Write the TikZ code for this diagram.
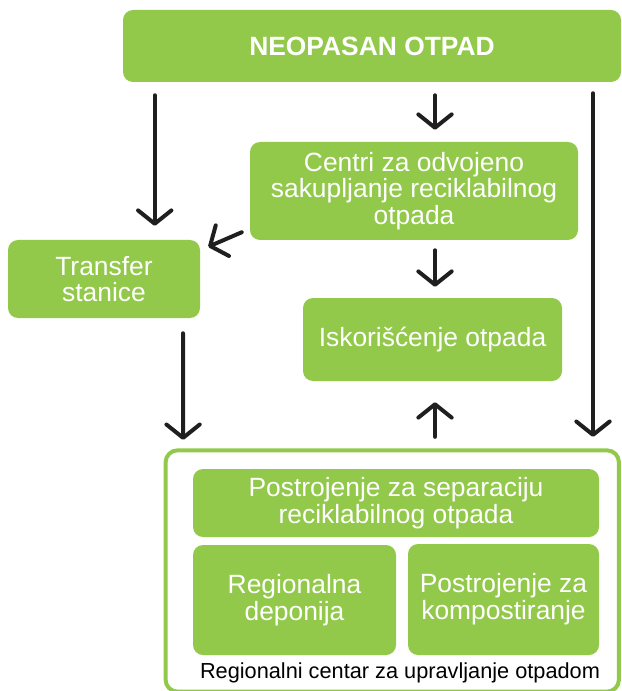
\documentclass[tikz,border=0pt]{standalone}
\usepackage{fontspec}
\setmainfont{Liberation Sans}
\usetikzlibrary{arrows.meta,calc}
\definecolor{leafgreen}{RGB}{146,201,74}

\begin{document}
\begin{tikzpicture}
[
x=0.75pt, y=-0.75pt,
GreenBox/.style={rectangle, rounded corners=7.5pt, fill=leafgreen, draw=none, text=white, align=center, inner sep=0pt, font=\fontsize{19.8}{20}\selectfont},
Center/.style={rectangle, rounded corners=9pt, draw=leafgreen, line width=3pt, fill=white, outer sep=0pt, inner sep=0pt},
FlowArrow/.style={-{Straight Barb[length=10pt, width=25pt, line cap=round, line join=round]}, line width=3pt, line cap=round, draw=black!88},
]

\useasboundingbox (0,0) rectangle (621,691);

\node[GreenBox, minimum width=373.5pt, minimum height=54pt, font=\fontsize{19.8}{20}\selectfont\bfseries] (top) at (372,46) {NEOPASAN OTPAD};

\node[GreenBox, minimum width=246pt, minimum height=73.5pt] (centri) at (414,191) {Centri za odvojeno\\ sakupljanje reciklabilnog\\ otpada};
\node[GreenBox, minimum width=144pt, minimum height=58.5pt] (transfer) at (104,279) {Transfer\\ stanice};
\node[GreenBox, minimum width=194.25pt, minimum height=62.25pt] (isk) at (432.5,339.5) {Iskorišćenje otpada};

\node[Center, minimum width=340pt, minimum height=181pt] (centar) at (392.25,571) {};
\node[GreenBox, minimum width=304.5pt, minimum height=51pt] (sep) at (396,503) {Postrojenje za separaciju\\ reciklabilnog otpada};
\node[GreenBox, minimum width=152.25pt, minimum height=82.5pt] (deponija) at (294.5,600) {Regionalna\\ deponija};
\node[GreenBox, minimum width=143.25pt, minimum height=83.25pt] (kompost) at (503.5,599.5) {Postrojenje za\\ kompostiranje};
\node[font=\fontsize{16.3}{18}\selectfont, inner sep=0pt] (caption) at (400,673) {Regionalni centar za upravljanje otpadom};

% arrows
\draw[FlowArrow] ($(top.south west)+(32,13)$) -- ($(top.south west |- transfer.north)+(32,-14)$);
\draw[FlowArrow] ($(top.south)+(63,13)$) -- ($(centri.north)+(21,-12)$);
\draw[FlowArrow] ($(top.south)+(221,11)$) -- ($(centar.north)+(200.75,-13.5)$);
\draw[FlowArrow] ($(centri.south west)+(-8,-8)$) -- ($(transfer.north east)+(8,7)$);
\draw[FlowArrow] ($(centri.south)+(21,10)$) -- ($(isk.north)+(2.5,-11)$);
\draw[FlowArrow] ($(transfer.south)+(79,15)$) -- ($(centar.north west)+(17.5,-10.5)$);
\draw[FlowArrow] ($(centar.north)+(42.75,-13.5)$) -- ($(isk.south)+(2.5,21)$);

\end{tikzpicture}
\end{document}
